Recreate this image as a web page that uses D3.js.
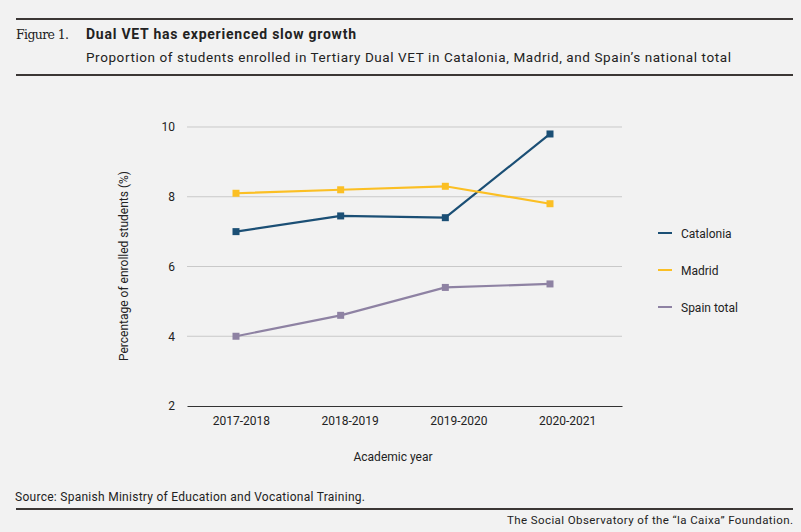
<!DOCTYPE html>
<html>
<head>
<meta charset="utf-8">
<script src="https://cdn.jsdelivr.net/npm/d3@7"></script>
<style>
  body { margin: 0; background: #f2f2f2; }
  text { font-family: Roboto, "Noto Sans", sans-serif; fill: #222; }
</style>
</head>
<body>
<div id="chart"></div>
<script>
const years = ["2017-2018", "2018-2019", "2019-2020", "2020-2021"];
const catalonia = [7.0, 7.45, 7.4, 9.8];
const madrid = [8.1, 8.2, 8.3, 7.8];
const spainTotal = [4.0, 4.6, 5.4, 5.5];
const yTicks = [2, 4, 6, 8, 10];

const series = [
  {name: "Catalonia", values: catalonia, color: "#1b4f75"},
  {name: "Madrid", values: madrid, color: "#fbbf24"},
  {name: "Spain total", values: spainTotal, color: "#8e82a3"}
];

const W = 801, H = 532;

const svg = d3.select("#chart")
              .append("svg")
              .attr("width", W)
              .attr("height", H);

svg.append("rect").attr("width", W).attr("height", H).attr("fill", "#f2f2f2");

// header
svg.append("line").attr("x1", 16).attr("x2", 793).attr("y1", 19).attr("y2", 19)
   .attr("stroke", "#3b3735").attr("stroke-width", 2);
svg.append("line").attr("x1", 16).attr("x2", 793).attr("y1", 75).attr("y2", 75)
   .attr("stroke", "#3b3735").attr("stroke-width", 2);
svg.append("text").attr("x", 16).attr("y", 39)
   .style("font-family", "'DejaVu Serif', 'Liberation Serif', serif")
   .style("font-size", "12.5px")
   .attr("textLength", 53)
   .text("Figure 1.");
svg.append("text").attr("x", 86).attr("y", 39)
   .style("font-size", "14px").style("font-weight", "bold")
   .attr("textLength", 270)
   .text("Dual VET has experienced slow growth");
svg.append("text").attr("x", 86).attr("y", 62)
   .style("font-size", "13.5px")
   .attr("textLength", 645)
   .text("Proportion of students enrolled in Tertiary Dual VET in Catalonia, Madrid, and Spain\u2019s national total");

// scales
const xAxisScale = d3.scaleBand().domain(years).range([187, 622]);
const x = d3.scalePoint().domain(years).range([236, 550]);
const y = d3.scaleLinear().domain([2, 10]).range([406, 127]);

// gridlines
svg.append("g")
   .selectAll("line")
   .data(yTicks.filter(d => d !== 2))
   .enter()
   .append("line")
   .attr("x1", 187).attr("x2", 622)
   .attr("y1", d => y(d)).attr("y2", d => y(d))
   .attr("stroke", "#c9c9c9").attr("stroke-width", 1);

// y axis labels
const yAxis = svg.append("g")
   .attr("transform", "translate(187,0)")
   .call(d3.axisLeft(y).tickValues(yTicks).tickSize(0).tickPadding(12));
yAxis.select(".domain").remove();
yAxis.selectAll("text").style("font-size", "12px").attr("fill", "#222");

// x axis
const xAxis = svg.append("g")
   .attr("transform", "translate(0,406)")
   .call(d3.axisBottom(xAxisScale).tickSize(0).tickPadding(10));
xAxis.select(".domain").attr("stroke", "#333").attr("stroke-width", 1.2);
xAxis.selectAll("text").style("font-size", "12px").attr("fill", "#222");

svg.append("text")
   .attr("x", 393).attr("y", 461)
   .attr("text-anchor", "middle")
   .style("font-size", "12px")
   .text("Academic year");

svg.append("text")
   .attr("transform", "translate(128,266) rotate(-90)")
   .attr("text-anchor", "middle")
   .style("font-size", "12px")
   .text("Percentage of enrolled students (%)");

// lines and markers
const line = d3.line()
               .x((d, i) => x(years[i]))
               .y(d => y(d));

series.forEach(s => {
  svg.append("path")
     .datum(s.values)
     .attr("d", line)
     .attr("fill", "none")
     .attr("stroke", s.color)
     .attr("stroke-width", 2.2);
  svg.selectAll(null)
     .data(s.values)
     .enter()
     .append("rect")
     .attr("x", (d, i) => x(years[i]) - 3.5)
     .attr("y", d => y(d) - 3.5)
     .attr("width", 7)
     .attr("height", 7)
     .attr("fill", s.color);
});

// legend
const legend = svg.append("g").attr("transform", "translate(658,233)");
series.forEach((s, i) => {
  const g = legend.append("g").attr("transform", `translate(0,${i * 37})`);
  g.append("line").attr("x1", 0).attr("x2", 14)
   .attr("stroke", s.color).attr("stroke-width", 2);
  g.append("text").attr("x", 23).attr("y", 4.5)
   .style("font-size", "12px")
   .text(s.name);
});

// footer
svg.append("text").attr("x", 15).attr("y", 501)
   .style("font-size", "12px")
   .attr("textLength", 350)
   .text("Source: Spanish Ministry of Education and Vocational Training.");
svg.append("line").attr("x1", 16).attr("x2", 793).attr("y1", 509).attr("y2", 509)
   .attr("stroke", "#3b3735").attr("stroke-width", 2);
svg.append("text").attr("x", 793).attr("y", 524)
   .attr("text-anchor", "end")
   .style("font-size", "11.5px")
   .attr("textLength", 286)
   .text("The Social Observatory of the \u201cla Caixa\u201d Foundation.");
</script>
</body>
</html>
